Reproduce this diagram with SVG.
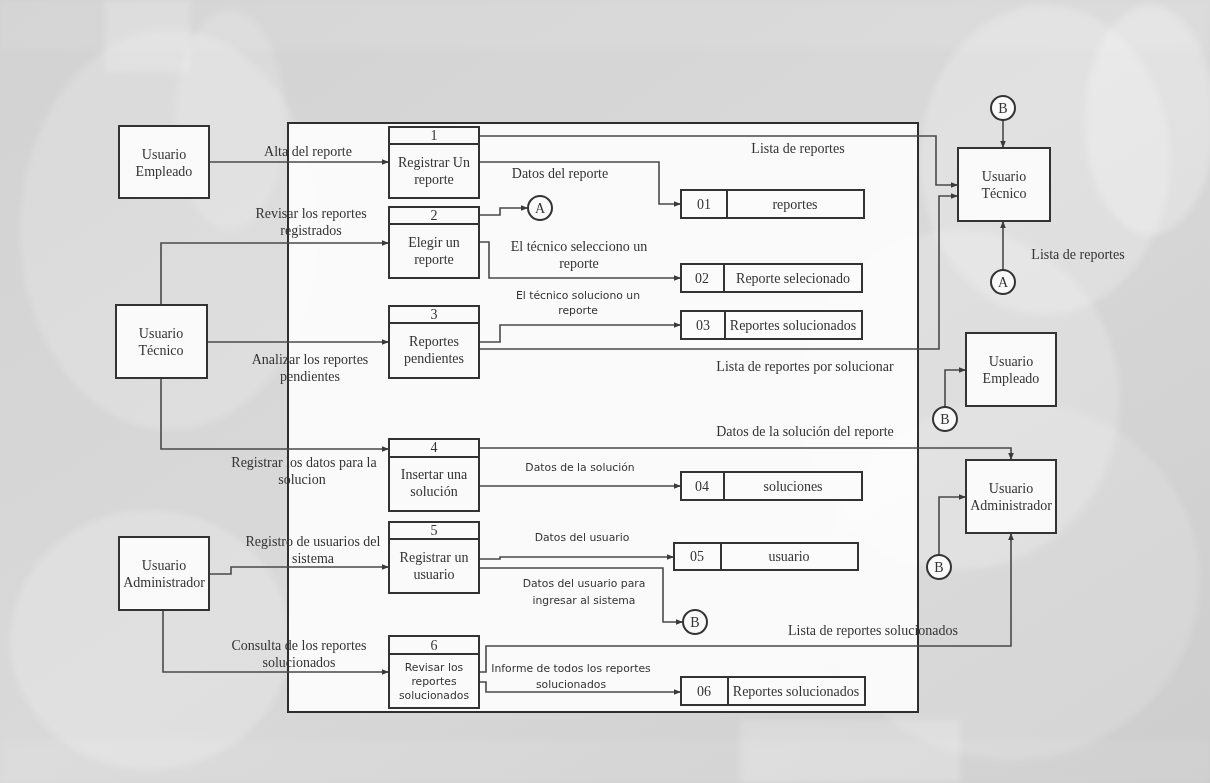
<svg xmlns="http://www.w3.org/2000/svg" width="1210" height="783" viewBox="0 0 1210 783">
  <style>
    .box { fill: #fafafa; stroke: #333; stroke-width: 2; }
    .hdr { fill: none; stroke: #333; stroke-width: 2; }
    .store { fill: #fbfbfb; stroke: #333; stroke-width: 2; }
    .arr { fill: none; stroke: #4a4a4a; stroke-width: 1.6; marker-end: url(#ah); }
    .conn { fill: #fafafa; stroke: #333; stroke-width: 2; }
    .t { font-family: "Liberation Serif", "Times New Roman", serif; font-size: 14px; fill: #333; text-anchor: middle; }
    .s { font-family: "DejaVu Sans", Verdana, sans-serif; font-size: 10.8px; fill: #333; text-anchor: middle; }
  </style>
  <defs>
    <marker id="ah" viewBox="0 0 10 10" refX="10" refY="5" markerWidth="7" markerHeight="7" markerUnits="userSpaceOnUse" orient="auto">
      <path d="M0,1 L10,5 L0,9 z" fill="#3a3a3a"/>
    </marker>
    <linearGradient id="bg" x1="0" y1="0" x2="1" y2="1">
      <stop offset="0" stop-color="#d2d2d2"/>
      <stop offset="0.5" stop-color="#d9d9d9"/>
      <stop offset="1" stop-color="#cdcdcd"/>
    </linearGradient>
    <filter id="soft" x="-20%" y="-20%" width="140%" height="140%">
      <feGaussianBlur stdDeviation="3"/>
    </filter>
  </defs>

  <!-- backdrop -->
  <rect x="0" y="0" width="1210" height="783" fill="url(#bg)"/>
  <g fill="#ffffff" filter="url(#soft)">
    <ellipse cx="170" cy="230" rx="150" ry="200" opacity="0.18"/>
    <ellipse cx="230" cy="120" rx="55" ry="110" opacity="0.15"/>
    <ellipse cx="1045" cy="160" rx="125" ry="155" opacity="0.22"/>
    <ellipse cx="1150" cy="120" rx="65" ry="115" opacity="0.25"/>
    <ellipse cx="960" cy="400" rx="160" ry="170" opacity="0.2"/>
    <ellipse cx="1010" cy="580" rx="190" ry="180" opacity="0.15"/>
    <ellipse cx="150" cy="640" rx="140" ry="130" opacity="0.2"/>
    <rect x="105" y="0" width="85" height="72" opacity="0.18"/>
    <rect x="0" y="0" width="1210" height="50" opacity="0.08"/>
    <rect x="740" y="720" width="220" height="63" opacity="0.2"/>
    <rect x="0" y="740" width="1210" height="43" opacity="0.08"/>
  </g>

  <!-- system boundary -->
  <rect id="boundary" x="288" y="123" width="630" height="589" fill="#ffffff" fill-opacity="0.87" stroke="#2e2e2e" stroke-width="2"/>

  <!-- connectors -->
  <g id="connectors">
    <!-- Usuario Empleado -> 1 -->
    <path class="arr" d="M209,162 H389"/>
    <!-- Usuario Técnico -> 2, 3, 4 -->
    <path class="arr" d="M161,305 V243 H389"/>
    <path class="arr" d="M207,342 H389"/>
    <path class="arr" d="M161,378 V449 H389"/>
    <!-- Usuario Administrador -> 5, 6 -->
    <path class="arr" d="M209,574 H231 V567 H389"/>
    <path class="arr" d="M163,610 V672 H389"/>

    <!-- 1 -> Usuario Técnico -->
    <path class="arr" d="M479,136 H936 V185 H958"/>
    <!-- 1 -> 01 -->
    <path class="arr" d="M479,162 H659 V204 H681"/>
    <!-- 2 -> A -->
    <path class="arr" d="M479,215 H500 V208 H528"/>
    <!-- 2 -> 02 -->
    <path class="arr" d="M479,242 H489 V278 H681"/>
    <!-- 3 -> 03 -->
    <path class="arr" d="M479,342 H500 V325 H681"/>
    <!-- 3 -> Usuario Técnico -->
    <path class="arr" d="M479,349 H939 V196 H958"/>
    <!-- 4 -> Usuario Administrador -->
    <path class="arr" d="M479,448 H1011 V460"/>
    <!-- 4 -> 04 -->
    <path class="arr" d="M479,486 H681"/>
    <!-- 5 -> 05 -->
    <path class="arr" d="M479,559 H500 V557 H674"/>
    <!-- 5 -> B -->
    <path class="arr" d="M479,568 H663 V622 H683"/>
    <!-- 6 -> Usuario Administrador -->
    <path class="arr" d="M479,672 H486 V646 H1011 V533"/>
    <!-- 6 -> 06 -->
    <path class="arr" d="M479,682 H486 V692 H681"/>

    <!-- off-page connectors on the right -->
    <path class="arr" d="M1003,120 V148"/>
    <path class="arr" d="M1003,270 V221"/>
    <path class="arr" d="M945,407 V370 H966"/>
    <path class="arr" d="M939,555 V497 H966"/>
  </g>

  <!-- flow labels -->
  <g id="labels">
    <text class="t" x="308" y="156">Alta del reporte</text>
    <text class="t" x="311" y="218">Revisar los reportes</text>
    <text class="t" x="311" y="235">registrados</text>
    <text class="t" x="310" y="364">Analizar los reportes</text>
    <text class="t" x="310" y="381">pendientes</text>
    <text class="t" x="304" y="467">Registrar los datos para la</text>
    <text class="t" x="302" y="484">solucion</text>
    <text class="t" x="313" y="546">Registro de usuarios del</text>
    <text class="t" x="313" y="563">sistema</text>
    <text class="t" x="299" y="650">Consulta de los reportes</text>
    <text class="t" x="299" y="667">solucionados</text>

    <text class="t" x="560" y="178">Datos del reporte</text>
    <text class="t" x="798" y="153">Lista de reportes</text>
    <text class="t" x="579" y="251">El técnico selecciono un</text>
    <text class="t" x="579" y="268">reporte</text>
    <text class="s" x="578" y="299">El técnico soluciono un</text>
    <text class="s" x="578" y="314">reporte</text>
    <text class="t" x="805" y="371">Lista de reportes por solucionar</text>
    <text class="t" x="805" y="436">Datos de la solución del reporte</text>
    <text class="s" x="580" y="471">Datos de la solución</text>
    <text class="s" x="582" y="541">Datos del usuario</text>
    <text class="s" x="584" y="587">Datos del usuario para</text>
    <text class="s" x="584" y="604">ingresar al sistema</text>
    <text class="t" x="873" y="635">Lista de reportes solucionados</text>
    <text class="s" x="571" y="672">Informe de todos los reportes</text>
    <text class="s" x="571" y="688">solucionados</text>
    <text class="t" x="1078" y="259">Lista de reportes</text>
  </g>

  <!-- external entities -->
  <g id="ent-empleado-left">
    <rect class="box" x="119" y="126" width="90" height="72"/>
    <text class="t" x="164" y="159">Usuario</text>
    <text class="t" x="164" y="176">Empleado</text>
  </g>
  <g id="ent-tecnico-left">
    <rect class="box" x="116" y="305" width="91" height="73"/>
    <text class="t" x="161" y="338">Usuario</text>
    <text class="t" x="161" y="355">Técnico</text>
  </g>
  <g id="ent-admin-left">
    <rect class="box" x="119" y="537" width="90" height="73"/>
    <text class="t" x="164" y="570">Usuario</text>
    <text class="t" x="164" y="587">Administrador</text>
  </g>
  <g id="ent-tecnico-right">
    <rect class="box" x="958" y="148" width="92" height="73"/>
    <text class="t" x="1004" y="181">Usuario</text>
    <text class="t" x="1004" y="198">Técnico</text>
  </g>
  <g id="ent-empleado-right">
    <rect class="box" x="966" y="333" width="90" height="73"/>
    <text class="t" x="1011" y="366">Usuario</text>
    <text class="t" x="1011" y="383">Empleado</text>
  </g>
  <g id="ent-admin-right">
    <rect class="box" x="966" y="460" width="90" height="73"/>
    <text class="t" x="1011" y="493">Usuario</text>
    <text class="t" x="1011" y="510">Administrador</text>
  </g>

  <!-- processes -->
  <g id="proc-1">
    <rect class="box" x="389" y="127" width="90" height="71"/>
    <path class="hdr" d="M389,144 H479"/>
    <text class="t" x="434" y="140">1</text>
    <text class="t" x="434" y="167">Registrar Un</text>
    <text class="t" x="434" y="184">reporte</text>
  </g>
  <g id="proc-2">
    <rect class="box" x="389" y="207" width="90" height="71"/>
    <path class="hdr" d="M389,224 H479"/>
    <text class="t" x="434" y="220">2</text>
    <text class="t" x="434" y="247">Elegir un</text>
    <text class="t" x="434" y="264">reporte</text>
  </g>
  <g id="proc-3">
    <rect class="box" x="389" y="306" width="90" height="72"/>
    <path class="hdr" d="M389,323 H479"/>
    <text class="t" x="434" y="319">3</text>
    <text class="t" x="434" y="346">Reportes</text>
    <text class="t" x="434" y="363">pendientes</text>
  </g>
  <g id="proc-4">
    <rect class="box" x="389" y="439" width="90" height="72"/>
    <path class="hdr" d="M389,457 H479"/>
    <text class="t" x="434" y="452">4</text>
    <text class="t" x="434" y="479">Insertar una</text>
    <text class="t" x="434" y="496">solución</text>
  </g>
  <g id="proc-5">
    <rect class="box" x="389" y="522" width="90" height="71"/>
    <path class="hdr" d="M389,539 H479"/>
    <text class="t" x="434" y="535">5</text>
    <text class="t" x="434" y="562">Registrar un</text>
    <text class="t" x="434" y="579">usuario</text>
  </g>
  <g id="proc-6">
    <rect class="box" x="389" y="636" width="90" height="72"/>
    <path class="hdr" d="M389,654 H479"/>
    <text class="t" x="434" y="650">6</text>
    <text class="s" x="434" y="671">Revisar los</text>
    <text class="s" x="434" y="685">reportes</text>
    <text class="s" x="434" y="699">solucionados</text>
  </g>

  <!-- data stores -->
  <g id="store-01">
    <rect class="store" x="681" y="190" width="183" height="28"/>
    <path class="hdr" d="M727,190 V218"/>
    <text class="t" x="704" y="209">01</text>
    <text class="t" x="795" y="209">reportes</text>
  </g>
  <g id="store-02">
    <rect class="store" x="681" y="264" width="181" height="28"/>
    <path class="hdr" d="M724,264 V292"/>
    <text class="t" x="702" y="283">02</text>
    <text class="t" x="793" y="283">Reporte selecionado</text>
  </g>
  <g id="store-03">
    <rect class="store" x="681" y="311" width="181" height="28"/>
    <path class="hdr" d="M725,311 V339"/>
    <text class="t" x="703" y="330">03</text>
    <text class="t" x="793" y="330">Reportes solucionados</text>
  </g>
  <g id="store-04">
    <rect class="store" x="681" y="472" width="181" height="28"/>
    <path class="hdr" d="M724,472 V500"/>
    <text class="t" x="702" y="491">04</text>
    <text class="t" x="793" y="491">soluciones</text>
  </g>
  <g id="store-05">
    <rect class="store" x="674" y="543" width="184" height="27"/>
    <path class="hdr" d="M721,543 V570"/>
    <text class="t" x="697" y="561">05</text>
    <text class="t" x="789" y="561">usuario</text>
  </g>
  <g id="store-06">
    <rect class="store" x="681" y="677" width="184" height="28"/>
    <path class="hdr" d="M728,677 V705"/>
    <text class="t" x="704" y="696">06</text>
    <text class="t" x="796" y="696">Reportes solucionados</text>
  </g>

  <!-- off-page connectors -->
  <g id="conn-A-left">
    <circle class="conn" cx="540" cy="208" r="12"/>
    <text class="t" x="540" y="213">A</text>
  </g>
  <g id="conn-B-mid">
    <circle class="conn" cx="695" cy="622" r="12"/>
    <text class="t" x="695" y="627">B</text>
  </g>
  <g id="conn-B-top">
    <circle class="conn" cx="1003" cy="108" r="12"/>
    <text class="t" x="1003" y="113">B</text>
  </g>
  <g id="conn-A-right">
    <circle class="conn" cx="1003" cy="282" r="12"/>
    <text class="t" x="1003" y="287">A</text>
  </g>
  <g id="conn-B-empleado">
    <circle class="conn" cx="945" cy="419" r="12"/>
    <text class="t" x="945" y="424">B</text>
  </g>
  <g id="conn-B-admin">
    <circle class="conn" cx="939" cy="567" r="12"/>
    <text class="t" x="939" y="572">B</text>
  </g>
</svg>
